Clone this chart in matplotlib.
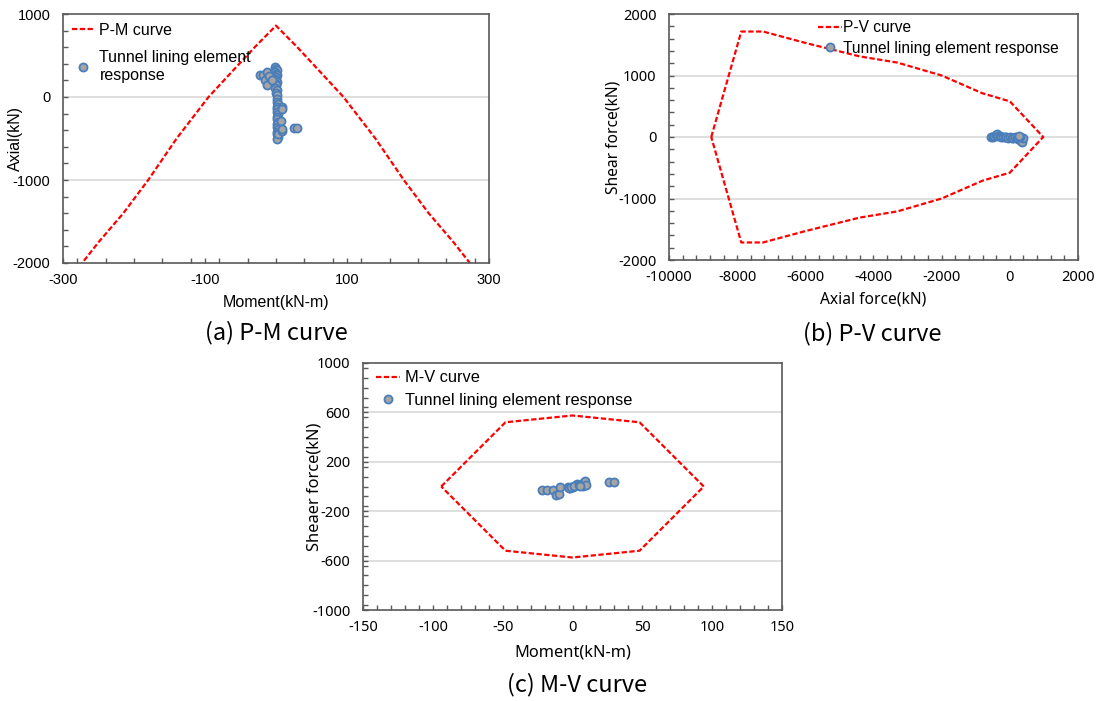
import numpy as np
import matplotlib
matplotlib.use('Agg')
import matplotlib.pyplot as plt
from matplotlib.ticker import MultipleLocator

plt.rcParams['axes.unicode_minus'] = False

# (a) P-M interaction curve (moment, axial)
pm_curve_m = [-290, -273, -250, -215, -180, -140, -95, -55, -30, 0, 30, 55, 95, 140, 180, 215, 250, 273, 290]
pm_curve_p = [-2200, -2000, -1750, -1400, -1000, -500, 0, 370, 600, 860, 600, 370, 0, -500, -1000, -1400, -1750, -2000, -2200]

# (a) tunnel lining element response
pm_m = [-1, 0, 1, -1, 0, 1, 0, -1, 0, 1, 0, 0, -1, 1, 0, 2, 1, 2, 3, 2, 1, 2, 3, 2, 1, 3, 2, 2, 3, 1, 2, 3, 2, 3,
        8, 9, 7, 9, 8, -22, -18, -13, -15, -10, -8, -12, -6, 26, 30]
pm_p = [360, 340, 320, 300, 280, 260, 240, 220, 200, 180, 160, 140, 110, 80, 50, 20, -30, -60, -90, -120, -150,
        -180, -210, -240, -270, -300, -330, -360, -390, -420, -450, -480, -500, -440,
        -120, -140, -290, -410, -380, 260, 265, 300, 200, 250, 180, 140, 210, -370, -375]

# (b) P-V curve (axial, shear)
pv_curve_p = [-8760, -7880, -7240, -6000, -4400, -3300, -2000, -800, 0, 980,
              0, -800, -2000, -3300, -4400, -6000, -7240, -7880, -8760]
pv_curve_v = [0, 1715, 1715, 1530, 1310, 1210, 1000, 710, 580, 0,
              -580, -710, -1000, -1210, -1310, -1530, -1715, -1715, 0]

pv_p = [-550, -500, -450, -400, -380, -350, -300, -250, -200, -150, -100, -50, 0, 50, 100, 150, 200, 250,
        300, 330, 350, 380, 300, 280]
pv_v = [0, 5, 10, 30, 50, 20, 10, 5, 0, 0, -5, -10, 0, -10, -15, 0, -20, -30, -40, -60, -80, -20, 0, 10]

# (c) M-V curve (moment, shear)
mv_curve_m = [-94, -48, 0, 48, 94, 48, 0, -48, -94]
mv_curve_v = [0, 520, 575, 520, 0, -520, -575, -520, 0]

mv_m = [-21.6, -18.5, -13.7, -12.1, -9.4, -9.0, -3.0, -1.8, 0.1, 2.5, 3.5, 7.3, 8.3, 9.2, 9.7, 26.4, 29.8,
        -2.5, -1.0, 1.0, 4.5, 5.5]
mv_v = [-30, -30, -30, -65, -57, -8, -8, -16, -3, 11, 24, 5, 38, 46, 11, 35, 35,
        -12, -5, 2, 15, 8]

LINE_KW = dict(color='#ff0000', lw=1.6, dashes=(2.4, 1.1))
SC_KW = dict(marker='o', linestyle='none', markersize=5.8, markerfacecolor='#a5a5a5',
             markeredgecolor='#4a7ebb', markeredgewidth=1.3)

fig = plt.figure(figsize=(11.08, 7.01), dpi=100)


def style_axes(ax, xlim, ylim, xticks, xmin, yticks, ymin, grid_vals, tickfont):
    ax.set_xticks(xticks)
    ax.set_yticks(yticks)
    ax.xaxis.set_minor_locator(MultipleLocator(xmin))
    ax.yaxis.set_minor_locator(MultipleLocator(ymin))
    ax.set_xlim(*xlim)
    ax.set_ylim(*ylim)
    for s in ax.spines.values():
        s.set_color('#595959')
        s.set_linewidth(1.2)
    ax.tick_params(which='both', direction='in', length=3.5, width=1, color='#595959')
    ax.tick_params(axis='y', which='major', pad=9)
    ax.tick_params(axis='x', which='major', pad=7)
    for v in grid_vals:
        ax.axhline(v, color='#d9d9d9', lw=1.2, zorder=0)
    for lab in ax.get_xticklabels() + ax.get_yticklabels():
        lab.set_fontfamily(tickfont)
        lab.set_fontsize(10.5)


# ---- (a) P-M ----
ax1 = fig.add_axes([63 / 1108, 1 - 263 / 701, 426 / 1108, 249 / 701])
ax1.plot(pm_curve_m, pm_curve_p, label='P-M curve', **LINE_KW)
ax1.plot(pm_m, pm_p, label='Tunnel lining element\nresponse', **SC_KW)
style_axes(ax1, (-300, 300), (-2000, 1000), [-300, -100, 100, 300], 40, [-2000, -1000, 0, 1000], 200,
           [0, -1000], 'Liberation Sans')
ax1.set_xlabel('Moment(kN-m)', fontfamily='Liberation Sans', fontsize=11.5)
ax1.set_ylabel('Axial(kN)', fontfamily='Liberation Sans', fontsize=11.5)
ax1.xaxis.set_label_coords(0.5, -0.127)
ax1.yaxis.set_label_coords(-0.094, 0.5)
ax1.legend(loc='upper left', bbox_to_anchor=(0.02, 0.965), frameon=False, borderpad=0, borderaxespad=0,
           prop={'family': 'Liberation Sans', 'size': 11.5}, handlelength=1.5, handletextpad=0.25,
           labelspacing=0.8)

# ---- (b) P-V ----
ax2 = fig.add_axes([669 / 1108, 1 - 260 / 701, 409 / 1108, 246 / 701])
ax2.plot(pv_curve_p, pv_curve_v, label='P-V curve', **LINE_KW)
ax2.plot(pv_p, pv_v, label='Tunnel lining element response', **SC_KW)
style_axes(ax2, (-10000, 2000), (-2000, 2000), np.arange(-10000, 2001, 2000), 400,
           [-2000, -1000, 0, 1000, 2000], 200, [1000, 0, -1000], 'Noto Sans')
ax2.set_xlabel('Axial force(kN)', fontfamily='Noto Sans', fontsize=11.2)
ax2.set_ylabel('Shear force(kN)', fontfamily='Noto Sans', fontsize=11.2)
ax2.xaxis.set_label_coords(0.5, -0.13)
ax2.yaxis.set_label_coords(-0.115, 0.5)
ax2.legend(loc='upper left', bbox_to_anchor=(0.365, 0.975), frameon=False, borderpad=0, borderaxespad=0,
           prop={'family': 'Liberation Sans', 'size': 11.2}, handlelength=1.5, handletextpad=0.1,
           labelspacing=0.35)

# ---- (c) M-V ----
ax3 = fig.add_axes([363 / 1108, 1 - 610 / 701, 419 / 1108, 247 / 701])
ax3.plot(mv_curve_m, mv_curve_v, label='M-V curve', **LINE_KW)
ax3.plot(mv_m, mv_v, label='Tunnel lining element response', **SC_KW)
style_axes(ax3, (-150, 150), (-1000, 1000), np.arange(-150, 151, 50), 10,
           [-1000, -600, -200, 200, 600, 1000], 80, [600, 200, -200, -600], 'Noto Sans')
ax3.set_xlabel('Moment(kN-m)', fontfamily='Noto Sans', fontsize=11.8)
ax3.set_ylabel('Sheaer force(kN)', fontfamily='Noto Sans', fontsize=11.8)
ax3.xaxis.set_label_coords(0.5, -0.138)
ax3.yaxis.set_label_coords(-0.096, 0.5)
ax3.legend(loc='upper left', bbox_to_anchor=(0.03, 0.97), frameon=False, borderpad=0, borderaxespad=0,
           prop={'family': 'Liberation Sans', 'size': 11.8}, handlelength=1.5, handletextpad=0.3,
           labelspacing=0.45)

# captions
cap_kw = dict(fontfamily='Noto Sans CJK KR', fontsize=17, ha='center', va='center')
fig.text(276 / 1108, 1 - 333 / 701, '(a) P-M curve', **cap_kw)
fig.text(872 / 1108, 1 - 334 / 701, '(b) P-V curve', **cap_kw)
fig.text(577 / 1108, 1 - 685 / 701, '(c) M-V curve', **cap_kw)

fig.savefig('out.png', dpi=100)
